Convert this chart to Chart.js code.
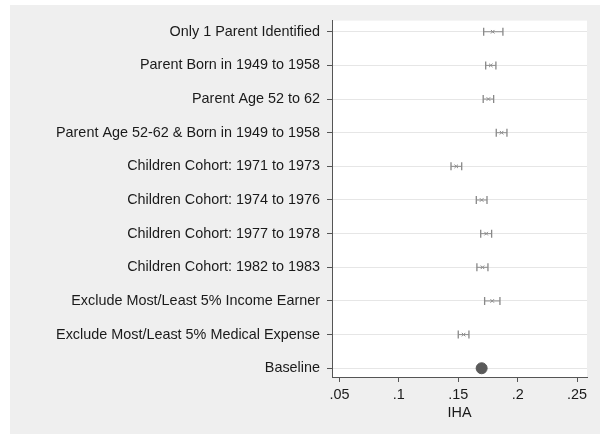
<!DOCTYPE html>
<html><head><meta charset="utf-8">
<script src="https://cdn.jsdelivr.net/npm/chart.js@4.4.0/dist/chart.umd.min.js"></script>
<style>
html,body{margin:0;padding:0;background:#fff;}
#wrap{position:absolute;left:10px;top:5px;width:590px;height:429px;background:#efefef;}
</style></head>
<body><div id="wrap"><canvas id="c" width="590" height="429"></canvas></div>
<script>
const categories = [
  "Only 1 Parent Identified",
  "Parent Born in 1949 to 1958",
  "Parent Age 52 to 62",
  "Parent Age 52-62 & Born in 1949 to 1958",
  "Children Cohort: 1971 to 1973",
  "Children Cohort: 1974 to 1976",
  "Children Cohort: 1977 to 1978",
  "Children Cohort: 1982 to 1983",
  "Exclude Most/Least 5% Income Earner",
  "Exclude Most/Least 5% Medical Expense",
  "Baseline"
];
const estimates = [0.179, 0.1774, 0.1754, 0.1865, 0.1483, 0.1697, 0.1735, 0.1704, 0.1786, 0.1545, 0.1697];
const lower     = [0.1714, 0.1731, 0.171, 0.182, 0.1439, 0.1652, 0.1689, 0.1657, 0.1722, 0.150, 0.1680];
const upper     = [0.1876, 0.1817, 0.1798, 0.191, 0.1529, 0.1742, 0.1781, 0.1750, 0.1851, 0.159, 0.1714];
const xTicks = [0.05, 0.10, 0.15, 0.20, 0.25];
const xTickLabels = [".05", ".1", ".15", ".2", ".25"];

const n = categories.length;
const rowIdx = categories.map((_, i) => i + 1);
const ciLine = [];
const caps = [];
for (let i = 0; i < n - 1; i++) {
  ciLine.push({x: lower[i], y: rowIdx[i]}, {x: upper[i], y: rowIdx[i]}, {x: null, y: null});
  caps.push({x: lower[i], y: rowIdx[i]}, {x: upper[i], y: rowIdx[i]});
}
const pts = [];
for (let i = 0; i < n - 1; i++) pts.push({x: estimates[i], y: rowIdx[i]});
const base = [{x: estimates[n - 1], y: rowIdx[n - 1]}];

const font = {family: "'Liberation Sans', Arial, sans-serif", size: 14.4};
new Chart(document.getElementById('c'), {
  type: 'scatter',
  data: {datasets: [
    {type: 'line', data: ciLine, borderColor: '#8c8c8c', borderWidth: 1, pointRadius: 0, spanGaps: false, showLine: true},
    {data: caps, pointStyle: 'line', rotation: 90, radius: 4, borderColor: '#888', borderWidth: 1.3},
    {data: pts, pointStyle: 'crossRot', radius: 2.5, borderColor: '#8c8c8c', borderWidth: 1},
    {data: base, pointStyle: 'circle', radius: 5.5, backgroundColor: '#5a5a5a', borderColor: '#5a5a5a'}
  ]},
  options: {
    responsive: false, animation: false,
    layout: {padding: {top: 13, right: 13, left: 0, bottom: 12}},
    plugins: {legend: {display: false}, tooltip: {enabled: false}},
    scales: {
      x: {
        type: 'linear', min: 0.0437, max: 0.2584,
        afterBuildTicks: s => { s.ticks = xTicks.map(v => ({value: v})); },
        afterFit: s => { s.height = 45; },
        ticks: {callback: (v) => xTickLabels[xTicks.indexOf(v)] ?? '', color: '#1a1a1a', font: font, padding: 4, maxRotation: 0},
        grid: {drawOnChartArea: false, tickLength: 5, tickColor: '#555'},
        border: {color: '#555', width: 1},
        title: {display: true, text: 'IHA', color: '#1a1a1a', font: font, padding: {top: 0, bottom: 0}}
      },
      y: {
        type: 'linear', reverse: true, min: 0.67, max: 11.26,
        afterBuildTicks: s => { s.ticks = rowIdx.map(v => ({value: v})); },
        afterFit: s => { s.width = 322; },
        ticks: {callback: (v) => categories[v - 1] ?? '', color: '#1a1a1a', font: font, padding: 7},
        grid: {color: '#e6e6e6', lineWidth: 1, tickLength: 5, tickColor: '#555'},
        border: {color: '#555', width: 1}
      }
    }
  },
  plugins: [{
    id: 'bg',
    beforeDraw(chart) {
      const {ctx, chartArea: a} = chart;
      ctx.save(); ctx.fillStyle = '#fff';
      ctx.fillRect(a.left, a.top, a.right - a.left, a.bottom - a.top);
      ctx.restore();
    }
  }]
});
</script></body></html>
